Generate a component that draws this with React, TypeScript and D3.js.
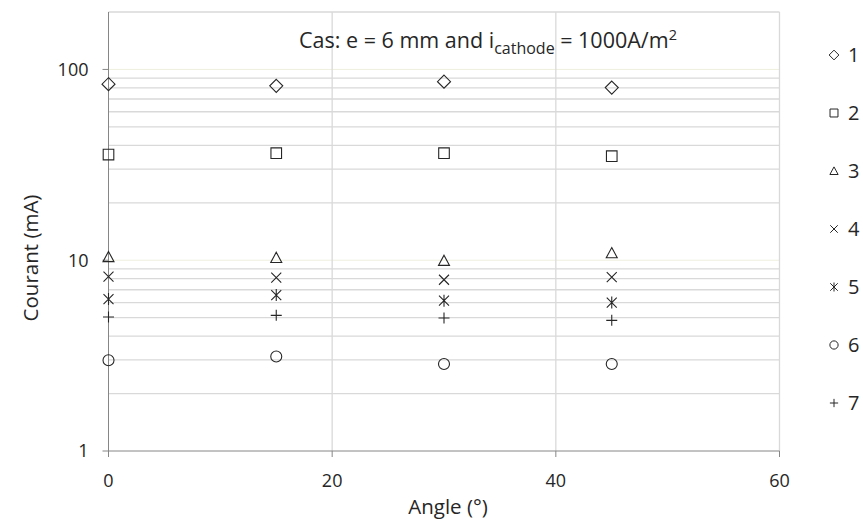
import React from "react";
import * as d3 from "d3";

const angles = [0, 15, 30, 45];
const seriesNames = ["1", "2", "3", "4", "5", "6", "7"];
const s1 = [83.7, 82.0, 86.3, 80.3];
const s2 = [35.8, 36.4, 36.4, 35.1];
const s3 = [10.4, 10.3, 9.94, 10.9];
const s4 = [8.2, 8.1, 7.9, 8.15];
const s5 = [6.26, 6.57, 6.14, 6.0];
const s6 = [2.99, 3.13, 2.86, 2.86];
const s7 = [5.04, 5.14, 4.98, 4.84];
const seriesValues = [s1, s2, s3, s4, s5, s6, s7];
const markerTypes = ["diamond", "square", "triangle", "x", "asterisk", "circle", "plus"];
const xTicks = [0, 20, 40, 60];
const yTicks = [1, 10, 100];
const xDomain = [0, 60];
const yDomain = [1, 200];

const W = 863;
const H = 523;
const FONT = "'Open Sans', 'Noto Sans', sans-serif";
const INK = "#262626";

function markerPath(type: string, k: number): string {
  const p = d3.path();
  if (type === "diamond") {
    const r = 6.5 * k;
    p.moveTo(0, -r); p.lineTo(r, 0); p.lineTo(0, r); p.lineTo(-r, 0); p.closePath();
  } else if (type === "square") {
    const r = 5.3 * k;
    p.rect(-r, -r, 2 * r, 2 * r);
  } else if (type === "triangle") {
    const w = 5.5 * k, h = 5.5 * k;
    p.moveTo(0, -h); p.lineTo(w, h * 0.85); p.lineTo(-w, h * 0.85); p.closePath();
  } else if (type === "x") {
    const r = 5 * k;
    p.moveTo(-r, -r); p.lineTo(r, r); p.moveTo(r, -r); p.lineTo(-r, r);
  } else if (type === "asterisk") {
    const r = 5 * k;
    p.moveTo(-r, -r); p.lineTo(r, r); p.moveTo(r, -r); p.lineTo(-r, r);
    p.moveTo(0, -r * 1.2); p.lineTo(0, r * 1.2);
  } else if (type === "plus") {
    const r = 5.5 * k;
    p.moveTo(-r, 0); p.lineTo(r, 0); p.moveTo(0, -r); p.lineTo(0, r);
  } else if (type === "circle") {
    const r = 5.5 * k;
    p.moveTo(r, 0); p.arc(0, 0, r, 0, Math.PI * 2);
  }
  return p.toString();
}

export default function App() {
  const x = d3.scaleLinear().domain(xDomain).range([108.5, 779.5]);
  const y = d3.scaleLog().domain(yDomain).range([451, 12]);

  const minor: number[] = [];
  for (let d = 1; d < 200; d *= 10) {
    for (let m = 2; m <= 9; m++) {
      const v = m * d;
      if (v < 200) minor.push(v);
    }
  }

  const legendY = d3.scaleLinear().domain([0, 6]).range([55, 403]);

  return (
    <svg width={W} height={H} style={{ position: "absolute", left: 0, top: 0, background: "#fff" }} fontFamily={FONT}>
      <rect x={0} y={0} width={W} height={H} fill="#fff" />
      {minor.map((v) => (
        <line key={"m" + v} x1={x(0)} x2={x(60)} y1={y(v)} y2={y(v)} stroke="#d9d9d9" strokeWidth={1.3} />
      ))}
      {yTicks.filter((v) => v > 1).map((v) => (
        <line key={"M" + v} x1={x(0)} x2={x(60)} y1={y(v)} y2={y(v)} stroke="#efefdf" strokeWidth={1} />
      ))}
      <line x1={x(0)} x2={x(60)} y1={y(200)} y2={y(200)} stroke="#d9d9d9" strokeWidth={1.3} />
      {xTicks.filter((v) => v > 0).map((v) => (
        <line key={"v" + v} x1={x(v)} x2={x(v)} y1={y(200)} y2={y(1)} stroke="#d9d9d9" strokeWidth={1.3} />
      ))}
      <line x1={x(0)} x2={x(60)} y1={y(1)} y2={y(1)} stroke="#868686" strokeWidth={1} />
      <line x1={x(0)} x2={x(0)} y1={y(200)} y2={y(1)} stroke="#868686" strokeWidth={1} />
      {xTicks.map((v) => (
        <g key={"xt" + v}>
          <line x1={x(v)} x2={x(v)} y1={y(1)} y2={y(1) + 6} stroke="#868686" />
          <text x={x(v)} y={y(1) + 36} textAnchor="middle" fontSize={18} fill={INK}>{v}</text>
        </g>
      ))}
      {yTicks.map((v) => (
        <g key={"yt" + v}>
          <line x1={x(0) - 6} x2={x(0)} y1={y(v)} y2={y(v)} stroke="#868686" />
          <text x={x(0) - 20} y={y(v)} dy="0.35em" textAnchor="end" fontSize={18} fill={INK}>{v}</text>
        </g>
      ))}
      {seriesValues.map((vals, si) => (
        <g key={"s" + si}>
          {vals.map((v, i) => (
            <path
              key={i}
              d={markerPath(markerTypes[si], 1)}
              transform={`translate(${x(angles[i])},${y(v)})`}
              fill="none"
              stroke={INK}
              strokeWidth={1.1}
            />
          ))}
        </g>
      ))}
      <text x={488} y={48} textAnchor="middle" fontSize={21.5} fill={INK}>
        <tspan>Cas: e = 6 mm and i</tspan>
        <tspan fontSize={16} dy={6}>cathode</tspan>
        <tspan dy={-6}> = 1000A/m</tspan>
        <tspan fontSize={14.5} dy={-8}>2</tspan>
      </text>
      <text x={448} y={514} textAnchor="middle" fontSize={20.5} fill={INK}>Angle (°)</text>
      <text transform="translate(38,258) rotate(-90)" textAnchor="middle" fontSize={20.5} fill={INK}>Courant (mA)</text>
      {seriesNames.map((n, i) => (
        <g key={"l" + i} transform={`translate(834,${legendY(i)})`}>
          <path d={markerPath(markerTypes[i], 0.75)} fill="none" stroke={INK} strokeWidth={1} />
          <text x={14} y={0} dy="0.36em" fontSize={20} fill={INK}>{n}</text>
        </g>
      ))}
    </svg>
  );
}
